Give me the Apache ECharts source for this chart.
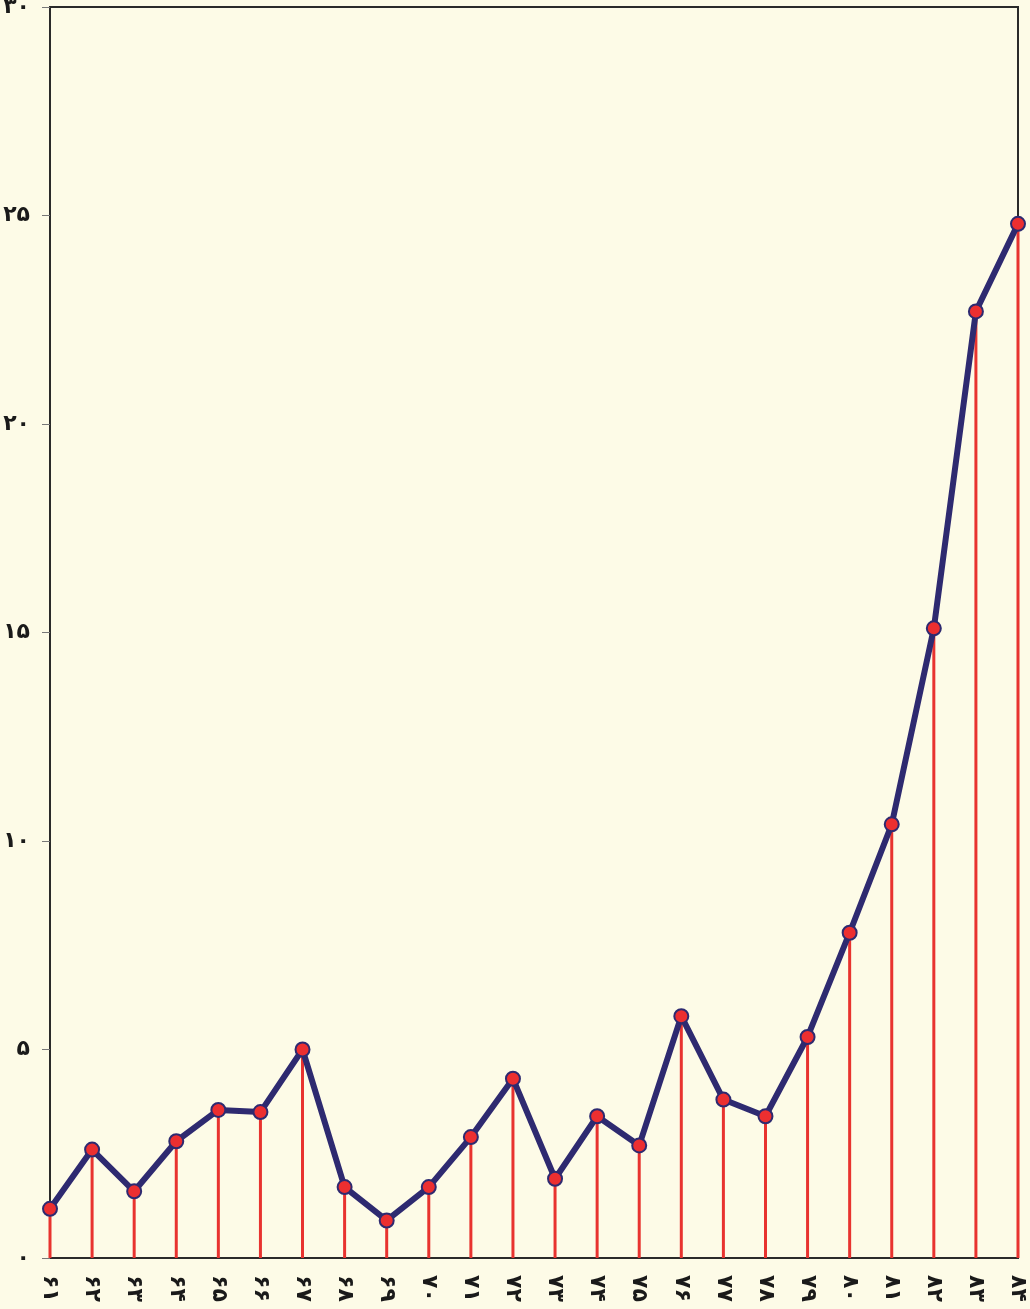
<!DOCTYPE html>
<html>
<head>
<meta charset="utf-8">
<script src="https://cdn.jsdelivr.net/npm/echarts@6/dist/echarts.min.js"></script>
<style>
  html, body { margin: 0; padding: 0; background: #fdfbe7; }
  #main { width: 1030px; height: 1309px; }
</style>
</head>
<body>
<div id="main"></div>
<script>
  // years (۶۱ .. ۸۴)
  var years = ['۶۱','۶۲','۶۳','۶۴','۶۵','۶۶','۶۷','۶۸','۶۹','۷۰','۷۱','۷۲',
               '۷۳','۷۴','۷۵','۷۶','۷۷','۷۸','۷۹','۸۰','۸۱','۸۲','۸۳','۸۴'];
  var values = [1.18, 2.6, 1.6, 2.8, 3.55, 3.5, 5.0, 1.7, 0.9, 1.7, 2.9, 4.3,
                1.9, 3.4, 2.7, 5.8, 3.8, 3.4, 5.3, 7.8, 10.4, 15.1, 22.7, 24.8];
  var yTickLabels = ['۰','۵','۱۰','۱۵','۲۰','۲۵','۳۰'];

  var myChart = echarts.init(document.getElementById('main'));

  var option = {
    backgroundColor: '#fdfbe7',
    animation: false,
    grid: {
      left: 50, right: 12, top: 7, bottom: 51,
      outerBoundsMode: 'none',
      show: true,
      borderColor: '#2a2a2a',
      borderWidth: 2
    },
    xAxis: {
      type: 'category',
      data: years,
      boundaryGap: false,
      axisLine: { show: true, lineStyle: { color: '#2a2a2a', width: 2 } },
      axisTick: { show: false },
      splitLine: { show: false },
      axisLabel: {
        rotate: -90,
        margin: 17,
        color: '#1a1a1a',
        fontSize: 22,
        fontWeight: 'bold',
        fontFamily: 'DejaVu Sans'
      }
    },
    yAxis: {
      type: 'value',
      min: 0,
      max: 30,
      interval: 5,
      axisLine: { show: true, lineStyle: { color: '#2a2a2a', width: 2 } },
      axisTick: { show: true, length: 8, lineStyle: { color: '#777', width: 1 } },
      splitLine: { show: false },
      axisLabel: {
        margin: 20,
        color: '#1a1a1a',
        fontSize: 22,
        fontWeight: 'bold',
        fontFamily: 'DejaVu Sans',
        formatter: function (v) { return yTickLabels[Math.round(v / 5)]; }
      }
    },
    series: [
      {
        // red drop lines
        type: 'bar',
        data: values,
        barWidth: 3,
        itemStyle: { color: '#e8332f' },
        z: 1
      },
      {
        type: 'line',
        data: values,
        symbol: 'circle',
        symbolSize: 14,
        lineStyle: { color: '#2e2a70', width: 6 },
        itemStyle: { color: '#ec2f30', borderColor: '#2e2a70', borderWidth: 2 },
        z: 3
      }
    ]
  };

  myChart.setOption(option);
</script>
</body>
</html>
